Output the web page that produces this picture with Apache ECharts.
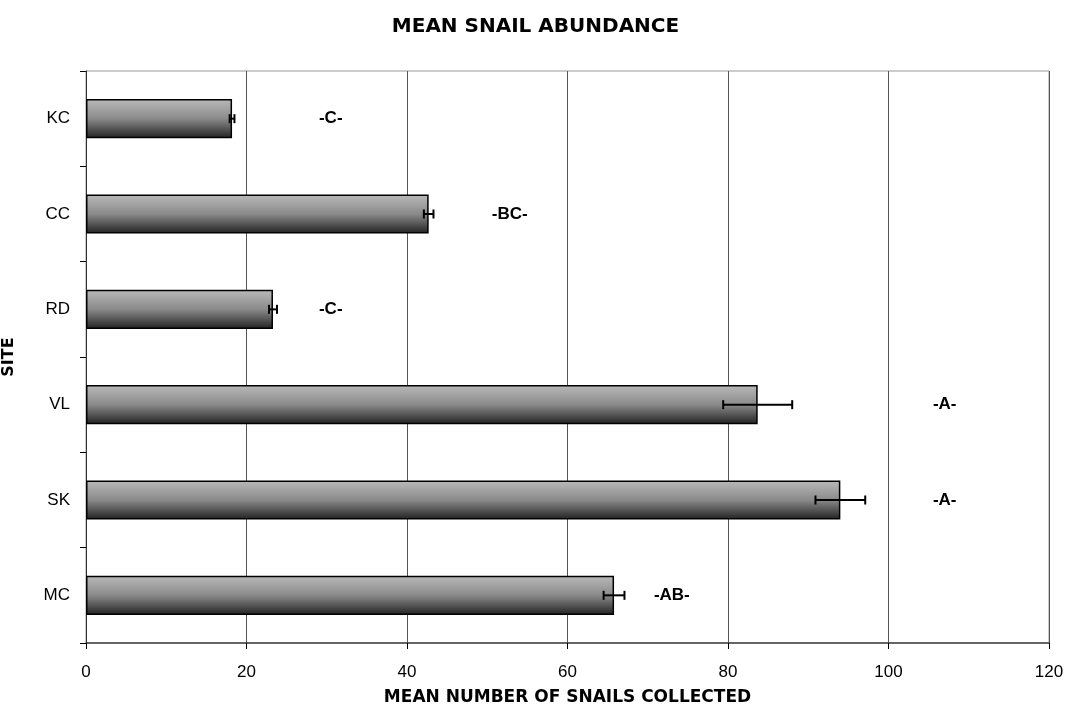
<!DOCTYPE html>
<html>
<head>
<meta charset="utf-8">
<script src="https://cdn.jsdelivr.net/npm/echarts@6/dist/echarts.min.js"></script>
<style>
  html, body { margin: 0; padding: 0; background: #fff; }
  #chart { width: 1071px; height: 711px; }
</style>
</head>
<body>
<div id="chart"></div>
<script>
// Sites, listed bottom to top on the category axis
const sites = ['MC', 'SK', 'VL', 'RD', 'CC', 'KC'];
// Mean number of snails collected per site
const means = [65.8, 94.0, 83.7, 23.3, 42.7, 18.2];
// Standard error for each site
const errors = [1.3, 3.1, 4.3, 0.5, 0.6, 0.3];
// Significance group letters and where they sit along the value axis
const groups = ['-AB-', '-A-', '-A-', '-C-', '-BC-', '-C-'];
const groupPos = [73, 107, 107, 30.5, 52.8, 30.5];
const xTicks = [0, 20, 40, 60, 80, 100, 120];

const font = 'Arial, "Liberation Sans", sans-serif';
const headFont = '"DejaVu Sans", Arial, sans-serif';
const chart = echarts.init(document.getElementById('chart'));

const errorData = sites.map((s, i) => [i, means[i] - errors[i], means[i] + errors[i]]);
const groupData = sites.map((s, i) => [groupPos[i], i, groups[i]]);

chart.setOption({
  animation: false,
  title: {
    text: 'MEAN SNAIL ABUNDANCE',
    left: 'center',
    top: 12,
    textStyle: { fontFamily: headFont, fontSize: 20, fontWeight: 'bold', color: '#000' }
  },
  grid: {
    left: 86, right: 22, top: 71, bottom: 68,
    outerBoundsMode: 'none', containLabel: false,
    show: true, borderColor: '#999', borderWidth: 1
  },
  xAxis: {
    type: 'value',
    min: 0, max: 120, interval: 20,
    name: 'MEAN NUMBER OF SNAILS COLLECTED',
    nameLocation: 'middle',
    nameGap: 46,
    nameTextStyle: { fontFamily: headFont, fontSize: 17, fontWeight: 'bold', color: '#000' },
    axisLine: { show: true, lineStyle: { color: '#444', width: 1.5 } },
    axisTick: { show: true, length: 6, lineStyle: { color: '#000' } },
    axisLabel: { fontFamily: font, fontSize: 17, color: '#000', margin: 21,
      formatter: v => xTicks.includes(v) ? String(v) : '' },
    splitLine: { show: true, lineStyle: { color: '#555', width: 1 } }
  },
  yAxis: {
    type: 'category',
    data: sites,
    name: 'SITE',
    nameLocation: 'middle',
    nameGap: 69,
    nameRotate: 90,
    nameTextStyle: { fontFamily: headFont, fontSize: 16, fontWeight: 'bold', color: '#000' },
    axisLine: { show: true, lineStyle: { color: '#333', width: 1 } },
    axisTick: { show: true, length: 6, lineStyle: { color: '#000' } },
    axisLabel: { fontFamily: font, fontSize: 17, color: '#000', margin: 16 },
    splitLine: { show: false }
  },
  series: [
    {
      type: 'bar',
      data: means,
      barWidth: '41%',
      itemStyle: {
        borderColor: '#000',
        borderWidth: 1.5,
        color: new echarts.graphic.LinearGradient(0, 0, 0, 1, [
          { offset: 0, color: '#bababa' },
          { offset: 0.5, color: '#8a8a8a' },
          { offset: 1, color: '#222222' }
        ])
      },
      z: 2
    },
    {
      type: 'custom',
      data: errorData,
      z: 3,
      renderItem: function (params, api) {
        const cat = api.value(0);
        const lo = api.coord([api.value(1), cat]);
        const hi = api.coord([api.value(2), cat]);
        const cap = 4.5;
        const style = { stroke: '#000', lineWidth: 2 };
        return {
          type: 'group',
          children: [
            { type: 'line', shape: { x1: lo[0], y1: lo[1], x2: hi[0], y2: hi[1] }, style },
            { type: 'line', shape: { x1: lo[0], y1: lo[1] - cap, x2: lo[0], y2: lo[1] + cap }, style },
            { type: 'line', shape: { x1: hi[0], y1: hi[1] - cap, x2: hi[0], y2: hi[1] + cap }, style }
          ]
        };
      }
    },
    {
      type: 'custom',
      data: groupData,
      z: 4,
      renderItem: function (params, api) {
        const p = api.coord([api.value(0), api.value(1)]);
        return {
          type: 'text',
          x: p[0], y: p[1],
          style: {
            text: groupData[params.dataIndex][2],
            align: 'center', verticalAlign: 'middle',
            font: 'bold 17px ' + font,
            fill: '#000'
          }
        };
      }
    }
  ]
});
</script>
</body>
</html>
